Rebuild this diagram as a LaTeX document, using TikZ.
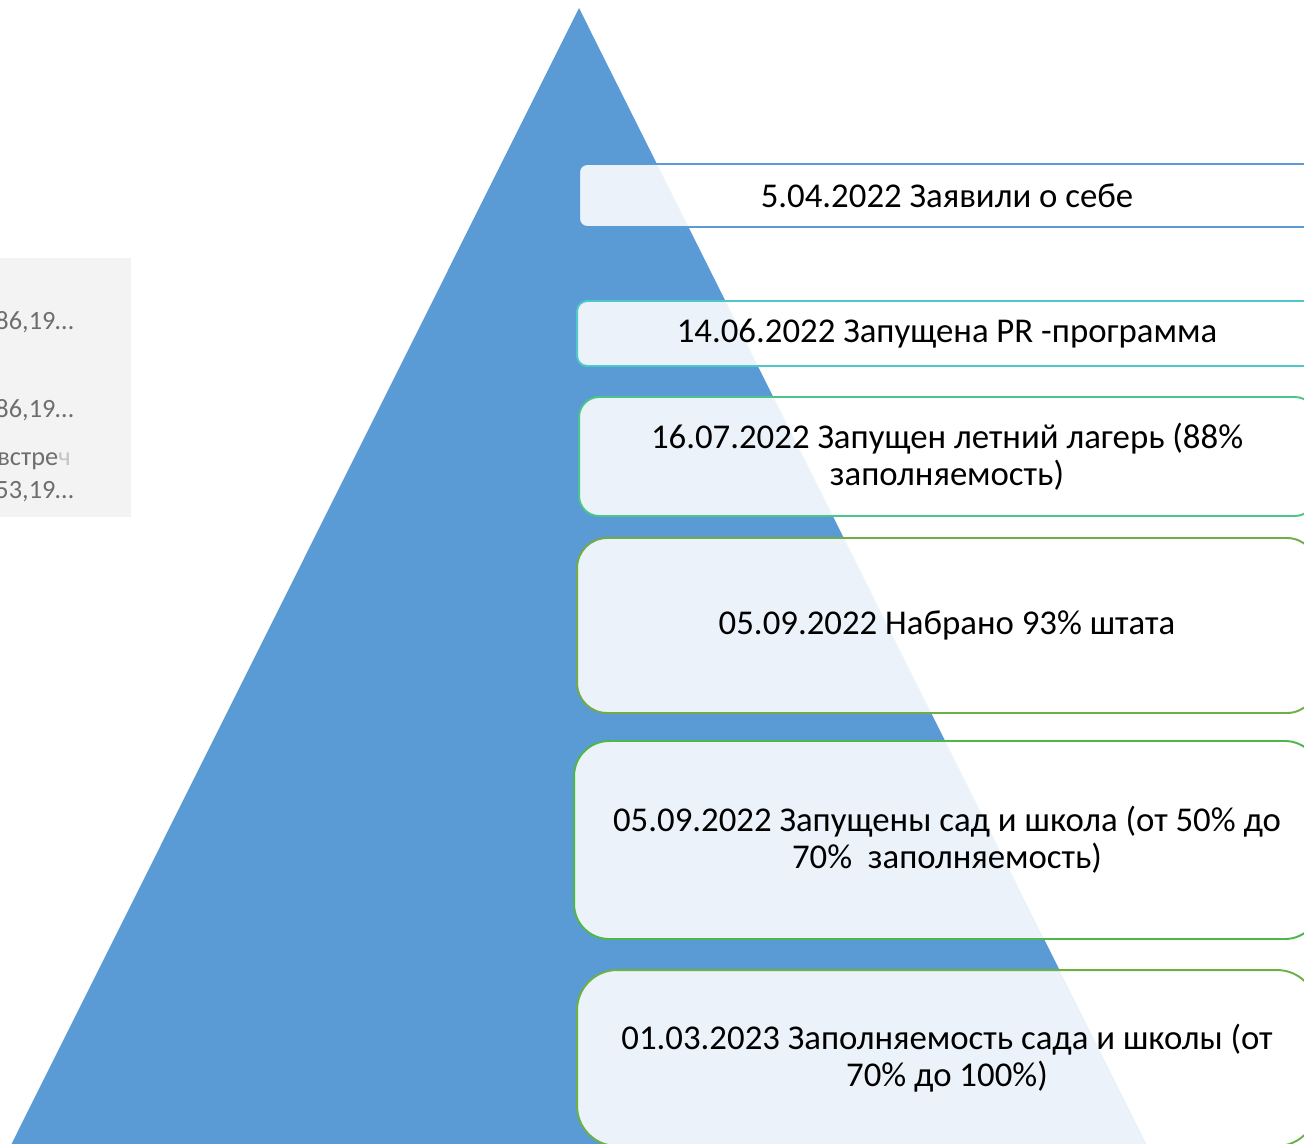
\documentclass[tikz,border=0pt]{standalone}
\usepackage{fontspec}
\setmainfont{Carlito}
\usetikzlibrary{positioning}
\definecolor{pyrblue}{HTML}{5B9BD5}
\definecolor{cyanline}{HTML}{4FC8CC}
\definecolor{mintline}{HTML}{4CC58A}
\definecolor{leafline}{HTML}{70AD47}
\definecolor{grassline}{HTML}{4DB848}
\definecolor{oliveline}{HTML}{6BB144}
\definecolor{panelgray}{HTML}{F3F3F3}
\definecolor{labelgray}{HTML}{6E6E6E}
\tikzset{
    stage/.style = {rectangle, line width=1.1pt, fill=white, fill opacity=0.88, text opacity=1,
                    align=center, font=\fontsize{19.8}{21}\selectfont, text=black},
    legend/.style = {anchor=base east, inner sep=0pt, text=labelgray, font=\fontsize{15}{17}\selectfont}
}

\begin{document}
\begin{tikzpicture}[x=0.02cm, y=-0.02cm]
\useasboundingbox (0,0) rectangle (1304,1143);
\clip (0,0) rectangle (1304,1143);
% pyramid
\fill[pyrblue] (579,8) -- (1152,1155) -- (6,1155) -- cycle;
% cut legend on the left
\fill[panelgray] (0,258) rectangle (131,517);
\node[legend] at (74,329) (v1) {86,19…};
\node[legend] at (74,417) (v2) {86,19…};
\node[legend, anchor=base west] at (-3,465) (v3) {встре\textcolor{labelgray!40}{ч}};
\node[legend] at (74,498) (v4) {53,19…};
%
\node[stage, draw=pyrblue, rounded corners=0.16cm, minimum width=14.72cm, minimum height=1.26cm]
  at (947,195.5) (s1) {5.04.2022 Заявили о себе};
\node[stage, draw=cyanline, rounded corners=0.2cm, minimum width=14.8cm, minimum height=1.3cm]
  at (947,333.5) (s2) {14.06.2022 Запущена PR -программа};
\node[stage, draw=mintline, rounded corners=0.4cm, minimum width=14.72cm, minimum height=2.38cm]
  at (947,456.5) (s3) {16.07.2022 Запущен летний лагерь (88\%\\заполняемость)};
\node[stage, draw=leafline, rounded corners=0.6cm, minimum width=14.8cm, minimum height=3.5cm]
  at (947,625.5) (s4) {05.09.2022 Набрано 93\% штата};
\node[stage, draw=grassline, rounded corners=0.7cm, minimum width=14.92cm, minimum height=3.96cm]
  at (947,840) (s5) {05.09.2022 Запущены сад и школа (от 50\% до\\70\%\ \ заполняемость)};
\node[stage, draw=oliveline, rounded corners=0.8cm, minimum width=14.8cm, minimum height=3.52cm]
  at (947,1058) (s6) {01.03.2023 Заполняемость сада и школы (от\\70\% до 100\%)};
\end{tikzpicture}
\end{document}
